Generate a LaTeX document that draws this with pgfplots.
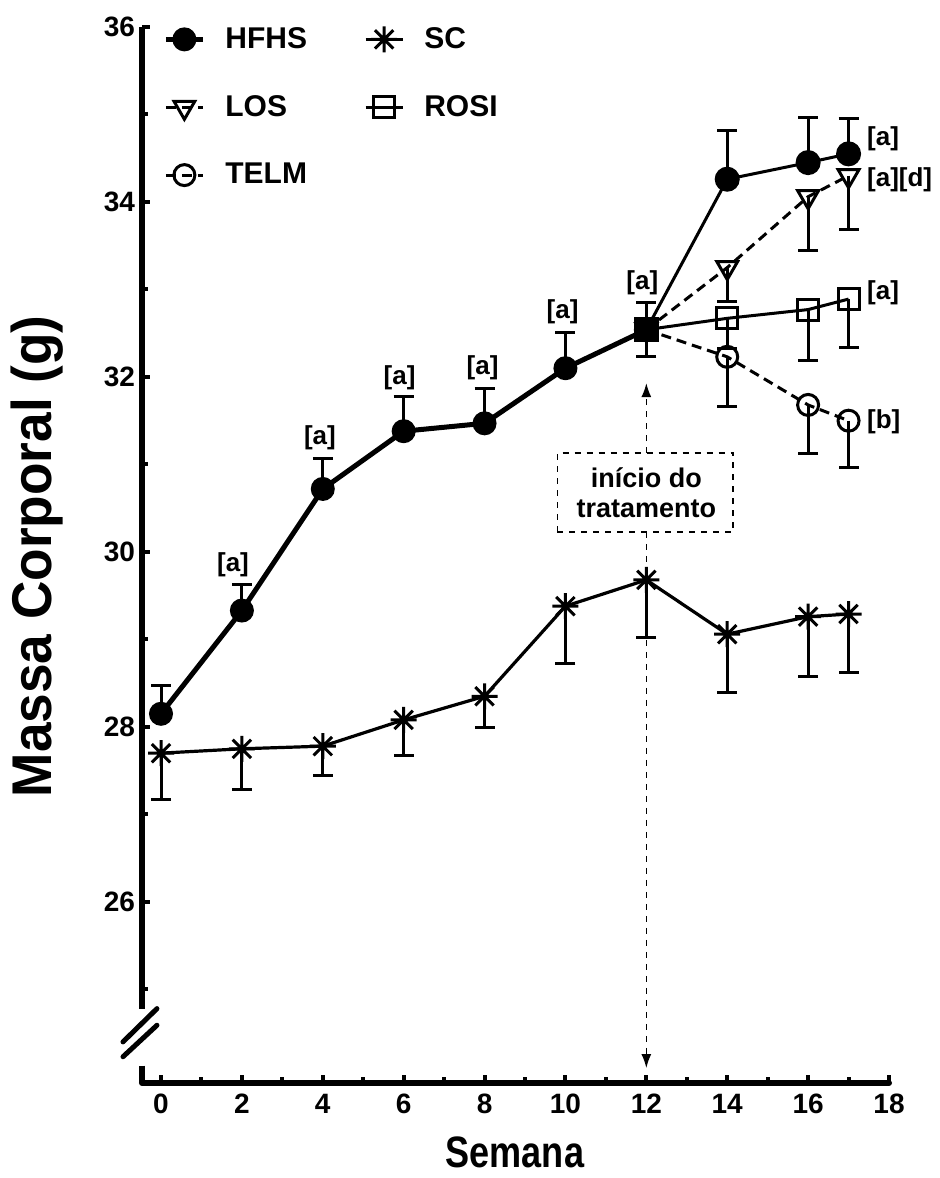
\documentclass[border=0pt]{standalone}
\usepackage{fontspec}
\setmainfont{Liberation Sans}
\newfontfamily\ylabfont[FakeStretch=0.95]{Liberation Sans}
\newfontfamily\xlabfont[FakeStretch=0.82]{Liberation Sans}
\usepackage{pgfplots}
\pgfplotsset{compat=1.18}
\usetikzlibrary{arrows.meta}

\pgfdeclareplotmark{star8}{%
  \pgfpathmoveto{\pgfqpoint{0pt}{\pgfplotmarksize}}%
  \pgfpathlineto{\pgfqpoint{0pt}{-\pgfplotmarksize}}%
  \pgfpathmoveto{\pgfqpoint{\pgfplotmarksize}{0pt}}%
  \pgfpathlineto{\pgfqpoint{-\pgfplotmarksize}{0pt}}%
  \pgfpathmoveto{\pgfqpoint{0.707\pgfplotmarksize}{0.707\pgfplotmarksize}}%
  \pgfpathlineto{\pgfqpoint{-0.707\pgfplotmarksize}{-0.707\pgfplotmarksize}}%
  \pgfpathmoveto{\pgfqpoint{-0.707\pgfplotmarksize}{0.707\pgfplotmarksize}}%
  \pgfpathlineto{\pgfqpoint{0.707\pgfplotmarksize}{-0.707\pgfplotmarksize}}%
  \pgfusepathqstroke}

\pgfplotstableread{
x y e
0 28.15 0.32
2 29.33 0.30
4 30.72 0.35
6 31.38 0.40
8 31.47 0.40
10 32.10 0.41
12 32.54 0.31
}\hfhsA
\pgfplotstableread{
x y e
12 32.54 0.31
14 34.26 0.56
16 34.45 0.51
17 34.55 0.40
}\hfhsB
\pgfplotstableread{
x y e
0 27.70 0.53
2 27.75 0.46
4 27.78 0.34
6 28.08 0.41
8 28.35 0.36
10 29.38 0.65
12 29.68 0.66
14 29.06 0.67
16 29.26 0.68
17 29.29 0.67
}\sc
\pgfplotstableread{
x y e
12 32.54 0
14 33.25 0.39
16 34.06 0.61
17 34.30 0.62
}\los
\pgfplotstableread{
x y e
12 32.54 0
14 32.67 0.35
16 32.77 0.58
17 32.89 0.55
}\rosi
\pgfplotstableread{
x y e
12 32.54 0
14 32.23 0.57
16 31.68 0.56
17 31.50 0.54
}\telm
\pgfplotstableread{
x y e
12 32.54 0.31
}\start

\begin{document}
\begin{tikzpicture}
\path[use as bounding box] (-71pt,-47.5pt) rectangle (398.5pt,541.5pt);
\begin{axis}[
  at={(0,0)}, anchor=south west,
  scale only axis, width=373.5pt, height=528pt,
  xmin=-0.47, xmax=18, ymin=23.93, ymax=36,
  axis lines=left,
  axis line style={-, line width=3pt, line cap=round},
  y axis line style={draw=none},
  xtick={0,2,...,18}, minor xtick={1,3,...,17},
  ytick={26,28,...,36}, minor ytick={25,27,...,35},
  tick align=inside,
  major tick length=4pt, minor tick length=3pt,
  every tick/.style={line width=2pt, black},
  tick label style={font=\fontsize{14}{16}\selectfont\bfseries},
  xticklabel style={yshift=-2pt},
  /pgf/number format/assume math mode=true,
  clip=false,
  legend columns=2,
  legend cell align=left,
  legend style={draw=none, fill=none, inner sep=0pt,
    at={([xshift=10.5pt,yshift=2pt]rel axis cs:0,1)}, anchor=north west,
    font=\fontsize{15}{17}\selectfont\bfseries, row sep=18pt,
    /tikz/every even column/.append style={column sep=26.5pt},
    /tikz/every odd column/.append style={column sep=8pt}},
  legend image code/.code={\draw[mark repeat=2,mark phase=2,#1] plot coordinates {(0pt,0pt) (9.25pt,0pt) (18.5pt,0pt)};},
  error bars/error bar style={line width=1.5pt, solid},
  error bars/error mark options={rotate=90, mark size=5pt, line width=1.5pt, solid},
]
% HFHS weeks 0-12 (thick)
\addplot[black, line width=2.5pt, mark=*, mark size=5.5pt, mark options={solid, fill=black, line width=1pt},
  error bars/.cd, y dir=plus, y explicit] table[x=x, y=y, y error=e] {\hfhsA};
\addlegendentry{HFHS}
% SC
\addplot[black, line width=1.6pt, mark=star8, mark size=6.5pt, mark options={solid, line width=1.5pt},
  error bars/.cd, y dir=minus, y explicit] table[x=x, y=y, y error=e] {\sc};
\addlegendentry{SC}
% LOS
\addplot[black, line width=1.5pt, dash pattern=on 5pt off 3pt, mark=triangle, mark size=6pt,
  mark options={solid, rotate=180, line width=1.5pt},
  error bars/.cd, y dir=minus, y explicit] table[x=x, y=y, y error=e] {\los};
\addlegendentry{LOS}
% ROSI
\addplot[black, line width=1.5pt, mark=square, mark size=5.25pt,
  mark options={solid, line width=1.5pt},
  error bars/.cd, y dir=minus, y explicit] table[x=x, y=y, y error=e] {\rosi};
\addlegendentry{ROSI}
% TELM
\addplot[black, line width=1.5pt, dash pattern=on 5pt off 3pt, mark=o, mark size=5.25pt,
  mark options={solid, line width=1.5pt},
  error bars/.cd, y dir=minus, y explicit] table[x=x, y=y, y error=e] {\telm};
\addlegendentry{TELM}
% HFHS weeks 12-17
\addplot[black, line width=1.5pt, mark=*, mark size=5.5pt, mark options={solid, fill=black}, forget plot,
  error bars/.cd, y dir=plus, y explicit] table[x=x, y=y, y error=e] {\hfhsB};
% start of treatment (week 12)
\addplot[black, mark=square*, mark size=6pt, only marks, mark options={solid, fill=black}, forget plot,
  error bars/.cd, y dir=both, y explicit] table[x=x, y=y, y error=e] {\start};

% significance labels
\begin{scope}[every node/.style={font=\fontsize{13}{15}\selectfont\bfseries, inner sep=0pt}]
\node at (axis cs:1.78,29.85) {[a]};
\node at (axis cs:3.93,31.30) {[a]};
\node at (axis cs:5.90,31.99) {[a]};
\node at (axis cs:7.95,32.11) {[a]};
\node at (axis cs:9.93,32.74) {[a]};
\node at (axis cs:11.90,33.08) {[a]};
\node[anchor=west] at (axis cs:17.45,34.72) {[a]};
\node[anchor=west] at (axis cs:17.45,34.25) {[a][d]};
\node[anchor=west] at (axis cs:17.45,32.96) {[a]};
\node[anchor=west] at (axis cs:17.45,31.49) {[b]};
\end{scope}

% treatment annotation
\draw[dashed, line width=0.8pt] (axis cs:9.80,30.23) rectangle (axis cs:14.15,31.13);
\node[font=\fontsize{13.5}{15}\selectfont\bfseries, align=center] at (axis cs:12,30.68) {início do\\tratamento};
\draw[dashed, line width=0.8pt, -{Latex[length=7pt,width=5pt]}] (axis cs:12,31.13) -- (axis cs:12,31.93);
\draw[dashed, line width=0.8pt, -{Latex[length=7pt,width=5pt]}] (axis cs:12,30.23) -- (axis cs:12,24.10);

% y axis with break
\draw[line width=3pt] (axis cs:-0.47,36) -- (axis cs:-0.47,24.78);
\draw[line width=3pt] (axis cs:-0.47,24.13) -- (axis cs:-0.47,23.93);
\draw[line width=2.5pt, line cap=round] (axis cs:-0.94,24.40) -- (axis cs:-0.10,24.78);
\draw[line width=2.5pt, line cap=round] (axis cs:-0.94,24.23) -- (axis cs:-0.10,24.59);

% axis labels
\node[font=\xlabfont\fontsize{22}{25}\selectfont\bfseries, anchor=base] at ([yshift=-42pt]axis cs:8.75,23.93) {Semana};
\node[rotate=90, anchor=base, font=\ylabfont\fontsize{28}{32}\selectfont\bfseries] at ([xshift=-45pt]axis cs:-0.47,29.95) {Massa Corporal (g)};
\end{axis}
\end{tikzpicture}
\end{document}
